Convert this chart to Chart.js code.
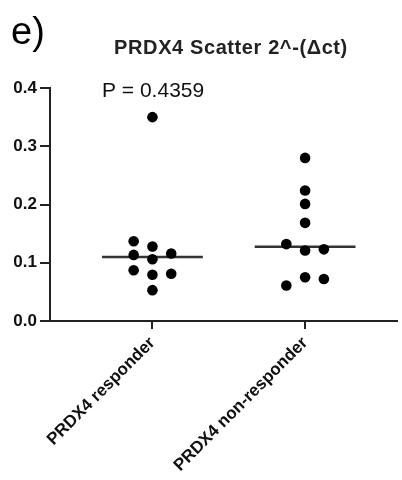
<!DOCTYPE html>
<html><head><meta charset="utf-8">
<script src="https://cdn.jsdelivr.net/npm/chart.js@4"></script>
<style>html,body{margin:0;padding:0;background:#fff;}#wrap{position:relative;width:402px;height:480px;}</style>
</head><body><div id="wrap"><canvas id="c" width="402" height="480"></canvas></div>
<script>
const categories = ['PRDX4 responder', 'PRDX4 non-responder'];
const responderValues = [0.350, 0.137, 0.128, 0.116, 0.1135, 0.106, 0.087, 0.081, 0.0795, 0.053];
const responderColumns = [0, -1, 0, 1, -1, 0, -1, 1, 0, 0];
const nonResponderValues = [0.280, 0.224, 0.201, 0.1685, 0.132, 0.123, 0.121, 0.075, 0.072, 0.061];
const nonResponderColumns = [0, 0, 0, 0, -1, 1, 0, 0, 1, -1];
const yTicks = [0, 0.1, 0.2, 0.3, 0.4];
const panelLabel = 'e)';
const titleText = 'PRDX4 Scatter 2^-(\u0394ct)';
const pValueLabel = 'P = 0.4359';

const COL = 0.123, HALF = 0.33;
function median(a){const s=[...a].sort((x,y)=>x-y);const n=s.length;return n%2?s[(n-1)/2]:(s[n/2-1]+s[n/2])/2;}
function pts(vals, cols, c){return vals.map((v,i)=>({x:c+cols[i]*COL,y:v}));}
const groups = [[responderValues,responderColumns],[nonResponderValues,nonResponderColumns]];
const datasets = [];
groups.forEach((g,i)=>{
  const c=i+1, m=median(g[0]);
  datasets.push({type:'line',data:[{x:c-HALF,y:m},{x:c+HALF,y:m}],borderColor:'#333',borderWidth:2.5,pointRadius:0,showLine:true,order:2});
  datasets.push({type:'scatter',data:pts(g[0],g[1],c),backgroundColor:'#000',borderColor:'#000',pointRadius:5.3,borderWidth:0,order:1});
});

const textPlugin = {id:'texts',afterDraw(chart){
  const ctx=chart.ctx;ctx.save();ctx.fillStyle='#000';ctx.textBaseline='alphabetic';
  ctx.font='38px "Liberation Sans", Arial, sans-serif';ctx.textAlign='left';ctx.fillText(panelLabel,11,44);
  ctx.font='bold 20px "Liberation Sans", Arial, sans-serif';ctx.textAlign='center';ctx.fillStyle='#222';
  try{ctx.letterSpacing='0.6px';}catch(e){}
  ctx.fillText(titleText,231,54);
  try{ctx.letterSpacing='0px';}catch(e){}
  ctx.font='21px "Liberation Sans", Arial, sans-serif';ctx.textAlign='left';ctx.fillStyle='#111';ctx.fillText(pValueLabel,102,97);
  ctx.restore();}};

new Chart(document.getElementById('c'),{
  data:{datasets},
  options:{responsive:false,animation:false,
    layout:{padding:{top:88,right:0,left:0,bottom:0}},
    plugins:{legend:{display:false},tooltip:{enabled:false}},
    scales:{
      x:{type:'linear',min:0.329,max:2.6,
        afterBuildTicks(s){s.ticks=[{value:1},{value:2}];},
        afterFit(s){s.height=159;},
        grid:{display:true,drawOnChartArea:false,drawTicks:true,tickLength:8,color:'#222',lineWidth:2},
        border:{display:true,color:'#222',width:2},
        ticks:{autoSkip:false,minRotation:45,maxRotation:45,padding:4,color:'#111',
          font:{family:'"Liberation Sans", Arial, sans-serif',size:17,weight:'bold'},
          callback:(v)=>categories[Math.round(v)-1]||''}},
      y:{type:'linear',min:0,max:0.4,
        afterBuildTicks(s){s.ticks=yTicks.map(v=>({value:v}));},
        afterFit(s){s.width=50;},
        grid:{display:true,drawOnChartArea:false,drawTicks:true,tickLength:10,color:'#222',lineWidth:2},
        border:{display:true,color:'#222',width:2},
        ticks:{padding:3,color:'#111',font:{family:'"Liberation Sans", Arial, sans-serif',size:17,weight:'bold'},
          callback:(v)=>Number(v).toFixed(1)}}
    }},
  plugins:[textPlugin]
});
</script></body></html>
